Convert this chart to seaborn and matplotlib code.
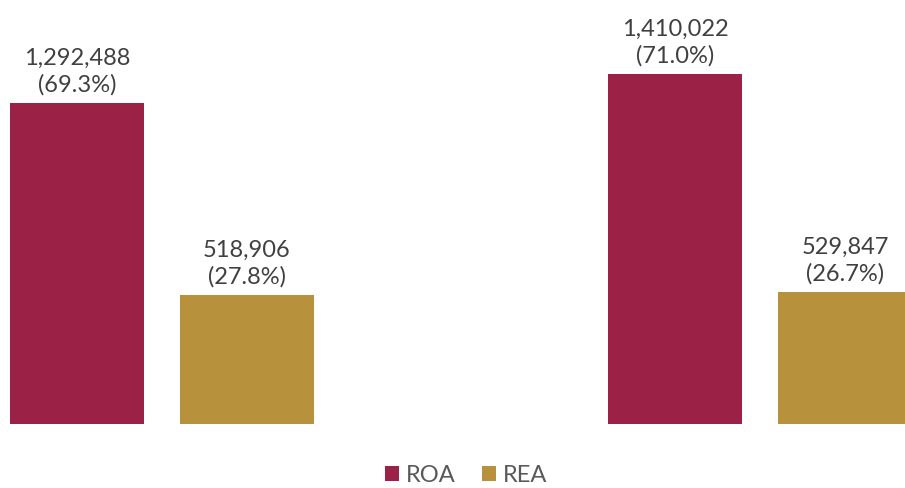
import matplotlib
matplotlib.use("Agg")
import matplotlib.pyplot as plt
import seaborn as sns
import pandas as pd
from matplotlib.patches import Patch

sns.set_theme(style="white")
plt.rcParams["font.family"] = ["Lato", "DejaVu Sans"]

# Data
periods = ["Period 1", "Period 2"]
series = ["ROA", "REA"]
roa_values = [1292488, 1410022]
rea_values = [518906, 529847]
roa_shares = [69.3, 71.0]
rea_shares = [27.8, 26.7]
palette = {"ROA": "#9B2246", "REA": "#B7913C"}

df = pd.DataFrame({
    "period": periods * 2,
    "series": ["ROA"] * 2 + ["REA"] * 2,
    "value": roa_values + rea_values,
    "share": roa_shares + rea_shares,
})

fig = plt.figure(figsize=(9.05, 4.89), dpi=100)
ax = fig.add_axes([0, 64 / 489, 1, 425 / 489])

sns.barplot(data=df, x="period", y="value", hue="series", hue_order=series,
            order=periods, palette=palette, width=0.5686, gap=0.2118,
            saturation=1, legend=False, linewidth=0, ax=ax)

ax.set_xlim(-0.2709, 1.2425)
ax.set_ylim(0, 1711230)
ax.axis("off")

# Value labels with share in parentheses
for container, name in zip(ax.containers, series):
    sub = df[df["series"] == name].set_index("period").loc[periods]
    for bar, val, share in zip(container, sub["value"], sub["share"]):
        ax.annotate(f"{val:,}\n({share:.1f}%)",
                    xy=(bar.get_x() + bar.get_width() / 2, bar.get_height()),
                    xytext=(0, 6), textcoords="offset points",
                    ha="center", va="bottom", fontsize=17,
                    color="#404040", linespacing=1.3)

handles = [Patch(facecolor=palette[s], edgecolor="none") for s in series]
fig.legend(handles, series, loc="center", bbox_to_anchor=(466 / 905, 1 - 476 / 489),
           ncol=2, frameon=False, fontsize=17, labelcolor="#595959",
           handlelength=0.6, handleheight=0.6, handletextpad=0.3,
           columnspacing=1.1)

fig.savefig("out.png", dpi=100)
